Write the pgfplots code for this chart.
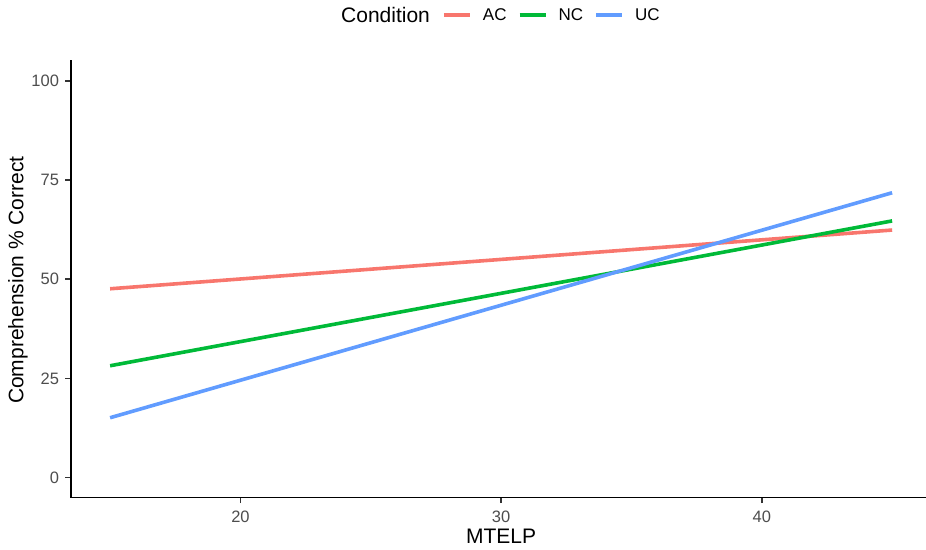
\documentclass[border=0pt]{standalone}
\usepackage{fontspec}
\setmainfont{Liberation Sans}
\usepackage{pgfplots}
\pgfplotsset{compat=1.18}
\definecolor{cAC}{HTML}{F8766D}
\definecolor{cNC}{HTML}{00BA38}
\definecolor{cUC}{HTML}{619CFF}
\definecolor{tickgray}{HTML}{4D4D4D}
\begin{document}
\begin{tikzpicture}
\path[use as bounding box] (-71pt,-51.5pt) rectangle (855pt,497.5pt);
\begin{axis}[
    at={(0pt,0pt)}, anchor=south west,
    scale only axis, width=855pt, height=436.5pt,
    xmin=13.5, xmax=46.3, ymin=-5, ymax=105,
    axis line style={draw=none},
    xtick={20,30,40}, ytick={0,25,50,75,100},
    tick align=outside, xtick pos=bottom, ytick pos=left,
    major tick length=5.5pt,
    tick style={line width=1.5pt, draw=black!80},
    /pgf/number format/assume math mode=true,
    ticklabel style={font=\fontsize{16.5}{19}\selectfont, color=tickgray},
    xticklabel style={yshift=-4pt},
    yticklabel style={xshift=-3pt},
    xlabel={MTELP}, ylabel={Comprehension \% Correct},
    every axis x label/.style={at={(axis description cs:0.503,-0.089)}, anchor=center, font=\fontsize{21}{25}\selectfont},
    every axis y label/.style={at={(axis description cs:-0.062,0.498)}, anchor=center, rotate=90, font=\fontsize{21}{25}\selectfont},
    legend style={at={(0.497,1.105)}, anchor=center, draw=none, fill=none,
        legend columns=4, font=\fontsize{17}{20}\selectfont,
        /tikz/every odd column/.append style={column sep=9pt},
        /tikz/every even column/.append style={column sep=9pt}},
    legend image code/.code={\draw[#1, line width=4pt] (0pt,0pt) -- (26pt,0pt);},
    clip=false,
]
\addlegendimage{empty legend}
\addlegendentry{\fontsize{21}{25}\selectfont Condition\hspace*{1pt}}

\addplot[cAC, line width=3.6pt] coordinates {(15,47.6) (45,62.4)};
\addlegendentry{AC}
\addplot[cNC, line width=3.6pt] coordinates {(15,28.2) (45,64.7)};
\addlegendentry{NC}
\addplot[cUC, line width=3.6pt] coordinates {(15,15.1) (45,71.8)};
\addlegendentry{UC}

% L-shaped axis lines (classic theme)
\draw[black, line width=1.4pt, line cap=rect] (rel axis cs:0,1) -- (rel axis cs:0,0) -- (rel axis cs:1,0);
\end{axis}
\end{tikzpicture}
\end{document}
